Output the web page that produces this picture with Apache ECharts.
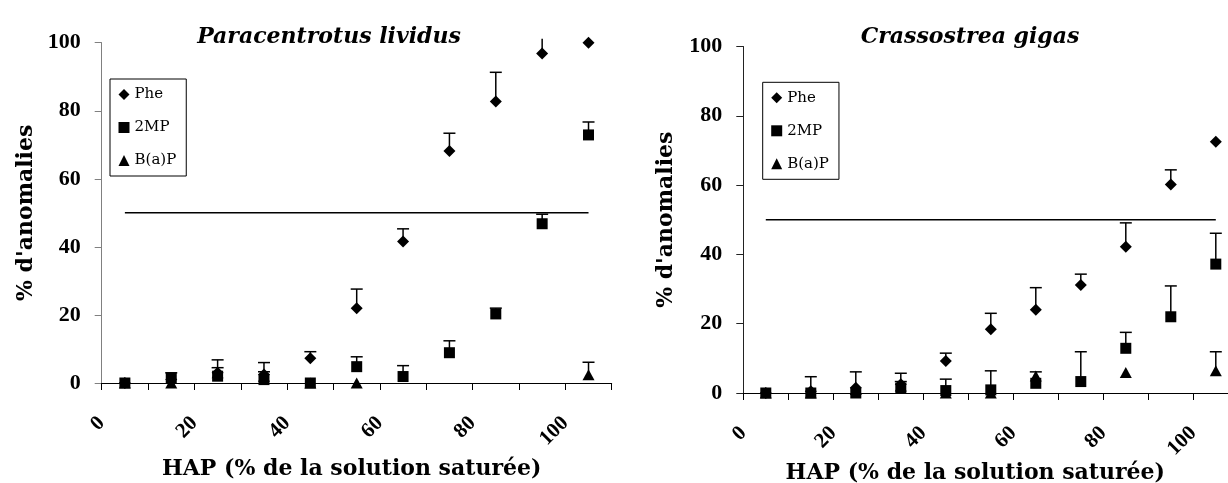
<!DOCTYPE html>
<html>
<head>
<meta charset="utf-8">
<script src="https://cdn.jsdelivr.net/npm/echarts@6/dist/echarts.min.js"></script>
<style>
html,body{margin:0;padding:0;background:#fff;}
#chart{width:1228px;height:483px;}
</style>
</head>
<body>
<div id="chart"></div>
<script>
// ---- data ----
const xValues = [5, 15, 25, 35, 45, 55, 65, 75, 85, 95, 105];
const seriesNames = ['Phe', '2MP', 'B(a)P'];
const xTickLabels = [0, 20, 40, 60, 80, 100];
const thresholdX = [5, 105];
const thresholdY = 50;

// Paracentrotus lividus
const plPhe     = [0, 1, 3, 2.5, 7.3, 22, 41.6, 68.2, 82.7, 96.8, 100];
const plPheErr  = [null, null, 6.8, 6.0, 9.2, 27.6, 45.3, 73.4, 91.3, 103, null];
const pl2MP     = [0, 1.5, 2, 1, 0, 4.8, 1.9, 8.9, 20.3, 46.8, 72.9];
const pl2MPErr  = [null, 3.0, 4.5, 3.3, null, 7.7, 5.1, 12.4, 22, 49.6, 76.7];
const plBaP     = [0, 0, 3, 2, 0, 0, null, null, null, null, 2.4];
const plBaPErr  = [null, null, null, null, null, null, null, null, null, null, 6.1];

// Crassostrea gigas
const cgPhe     = [0, 0.5, 1.5, 2.5, 9.2, 18.4, 24, 31.2, 42.2, 60.2, 72.5];
const cgPheErr  = [null, 4.7, 6.1, 5.7, 11.5, 23, 30.4, 34.3, 49.1, 64.4, null];
const cg2MP     = [0, 0, 0, 1.4, 0.7, 0.9, 2.8, 3.3, 12.9, 22, 37.2];
const cg2MPErr  = [null, null, null, 3.3, 4.0, 6.4, null, 11.9, 17.5, 30.9, 46.1];
const cgBaP     = [0, 0, 1, 2, 0, 0, 4.9, null, 5.9, null, 6.4];
const cgBaPErr  = [null, null, null, null, null, null, 6.1, null, null, null, 11.9];

const titles = ['Paracentrotus lividus', 'Crassostrea gigas'];
const xName = 'HAP (% de la solution saturée)';
const yName = "% d'anomalies";

// ---- styling ----
const symbols = {'Phe': ['diamond', [12, 12]], '2MP': ['rect', [11, 11]], 'B(a)P': ['triangle', [12, 11]]};
const serif = '"Liberation Serif", "Times New Roman", serif';
const dserif = '"DejaVu Serif", serif';

function pts(vals) {
  return xValues.map((x, i) => vals[i] == null ? null : [x, vals[i]]).filter(d => d);
}
function errPts(vals, tops) {
  return xValues.map((x, i) => (tops[i] == null || vals[i] == null) ? null : [x, vals[i], tops[i]]).filter(d => d);
}

function renderErr(params, api) {
  const p0 = api.coord([api.value(0), api.value(1)]);
  let p1 = api.coord([api.value(0), api.value(2)]);
  const cs = params.coordSys;
  const children = [];
  let cap = true;
  if (p1[1] < cs.y - 4) { p1 = [p1[0], cs.y - 4]; cap = false; }
  children.push({type: 'line', shape: {x1: p0[0], y1: p0[1], x2: p1[0], y2: p1[1]},
    style: {stroke: '#000', lineWidth: 1.5}});
  if (cap) {
    children.push({type: 'line', shape: {x1: p1[0] - 6, y1: p1[1], x2: p1[0] + 6, y2: p1[1]},
      style: {stroke: '#000', lineWidth: 1.5}});
  }
  return {type: 'group', children: children};
}

function makeSeries(idx, data) {
  const out = [];
  out.push({type: 'line', xAxisIndex: idx, yAxisIndex: idx, silent: true,
    data: thresholdX.map(x => [x, thresholdY]), symbol: 'none',
    lineStyle: {color: '#000', width: 1.5}, z: 1});
  const order = [2, 0, 1];
  order.forEach(k => {
    const nm = seriesNames[k];
    out.push({type: 'custom', name: nm, xAxisIndex: idx, yAxisIndex: idx,
      renderItem: renderErr, data: errPts(data[k][0], data[k][1]),
      encode: {x: 0, y: [1, 2]}, clip: false, z: 2, itemStyle: {color: '#000'}});
  });
  order.forEach(k => {
    const nm = seriesNames[k];
    out.push({type: 'scatter', name: nm, xAxisIndex: idx, yAxisIndex: idx,
      data: pts(data[k][0]), symbol: symbols[nm][0], symbolSize: symbols[nm][1],
      itemStyle: {color: '#000', opacity: 1}, z: 3, emphasis: {disabled: true}});
  });
  return out;
}

function xAxis(idx, gap, pad) {
  return {type: 'value', gridIndex: idx, min: 0, max: 110, interval: 10,
    name: xName, nameLocation: 'middle', nameGap: gap, nameMoveOverlap: false,
    nameTextStyle: {fontFamily: dserif, fontWeight: 'bold', fontSize: 22, color: '#000', padding: pad},
    axisLine: {show: true, lineStyle: {color: '#000', width: 1}},
    axisTick: {show: true, length: 7, lineStyle: {color: '#000', width: 1}},
    splitLine: {show: false},
    axisLabel: {rotate: 45, margin: 37, fontFamily: serif, fontWeight: 'bold', fontSize: 21, color: '#000',
      showMinLabel: true, showMaxLabel: true,
      formatter: v => xTickLabels.indexOf(v) >= 0 ? String(v) : ''}};
}
function yAxis(idx, lineColor, gap) {
  return {type: 'value', gridIndex: idx, min: 0, max: 100, interval: 20,
    name: yName, nameLocation: 'middle', nameGap: gap, nameRotate: 90, nameMoveOverlap: false,
    nameTextStyle: {fontFamily: dserif, fontWeight: 'bold', fontSize: 22, color: '#000'},
    axisLine: {show: true, lineStyle: {color: lineColor, width: 1}},
    axisTick: {show: true, length: 7, lineStyle: {color: lineColor, width: 1}},
    splitLine: {show: false},
    axisLabel: {margin: 21, fontFamily: serif, fontWeight: 'bold', fontSize: 22, color: '#000'}};
}
function legend(idx, left, top) {
  return {orient: 'vertical', left: left, top: top,
    data: seriesNames.map(n => ({name: n, icon: symbols[n][0]})),
    itemWidth: 11, itemHeight: 11, itemGap: 18,
    padding: [8, 10, 8, 8.5],
    borderColor: '#000', borderWidth: 1, backgroundColor: '#fff',
    selectedMode: false,
    itemStyle: {color: '#000'},
    textStyle: {fontFamily: dserif, fontSize: 15, color: '#000'}};
}

const chart = echarts.init(document.getElementById('chart'), null, {renderer: 'canvas'});
chart.setOption({
  animation: false,
  backgroundColor: '#fff',
  title: [
    {text: titles[0], left: 324, top: 21, textAlign: 'center',
      textStyle: {fontFamily: dserif, fontStyle: 'italic', fontWeight: 'bold', fontSize: 22, color: '#000'}},
    {text: titles[1], left: 965, top: 21, textAlign: 'center',
      textStyle: {fontFamily: dserif, fontStyle: 'italic', fontWeight: 'bold', fontSize: 22, color: '#000'}}
  ],
  legend: [legend(0, 110, 79), legend(1, 762.7, 82.3)],
  grid: [
    {left: 101.7, top: 42.7, width: 510, height: 340.3, containLabel: false, outerBoundsMode: 'none'},
    {left: 743.3, top: 46.5, width: 495, height: 346.5, containLabel: false, outerBoundsMode: 'none'}
  ],
  xAxis: [xAxis(0, 75, [0, 10, 0, 0]), xAxis(1, 69, [0, 31, 0, 0])],
  yAxis: [yAxis(0, '#808080', 64), yAxis(1, '#222', 66)],
  series: [].concat(
    makeSeries(0, [[plPhe, plPheErr], [pl2MP, pl2MPErr], [plBaP, plBaPErr]]),
    makeSeries(1, [[cgPhe, cgPheErr], [cg2MP, cg2MPErr], [cgBaP, cgBaPErr]])
  )
});
</script>
</body>
</html>
